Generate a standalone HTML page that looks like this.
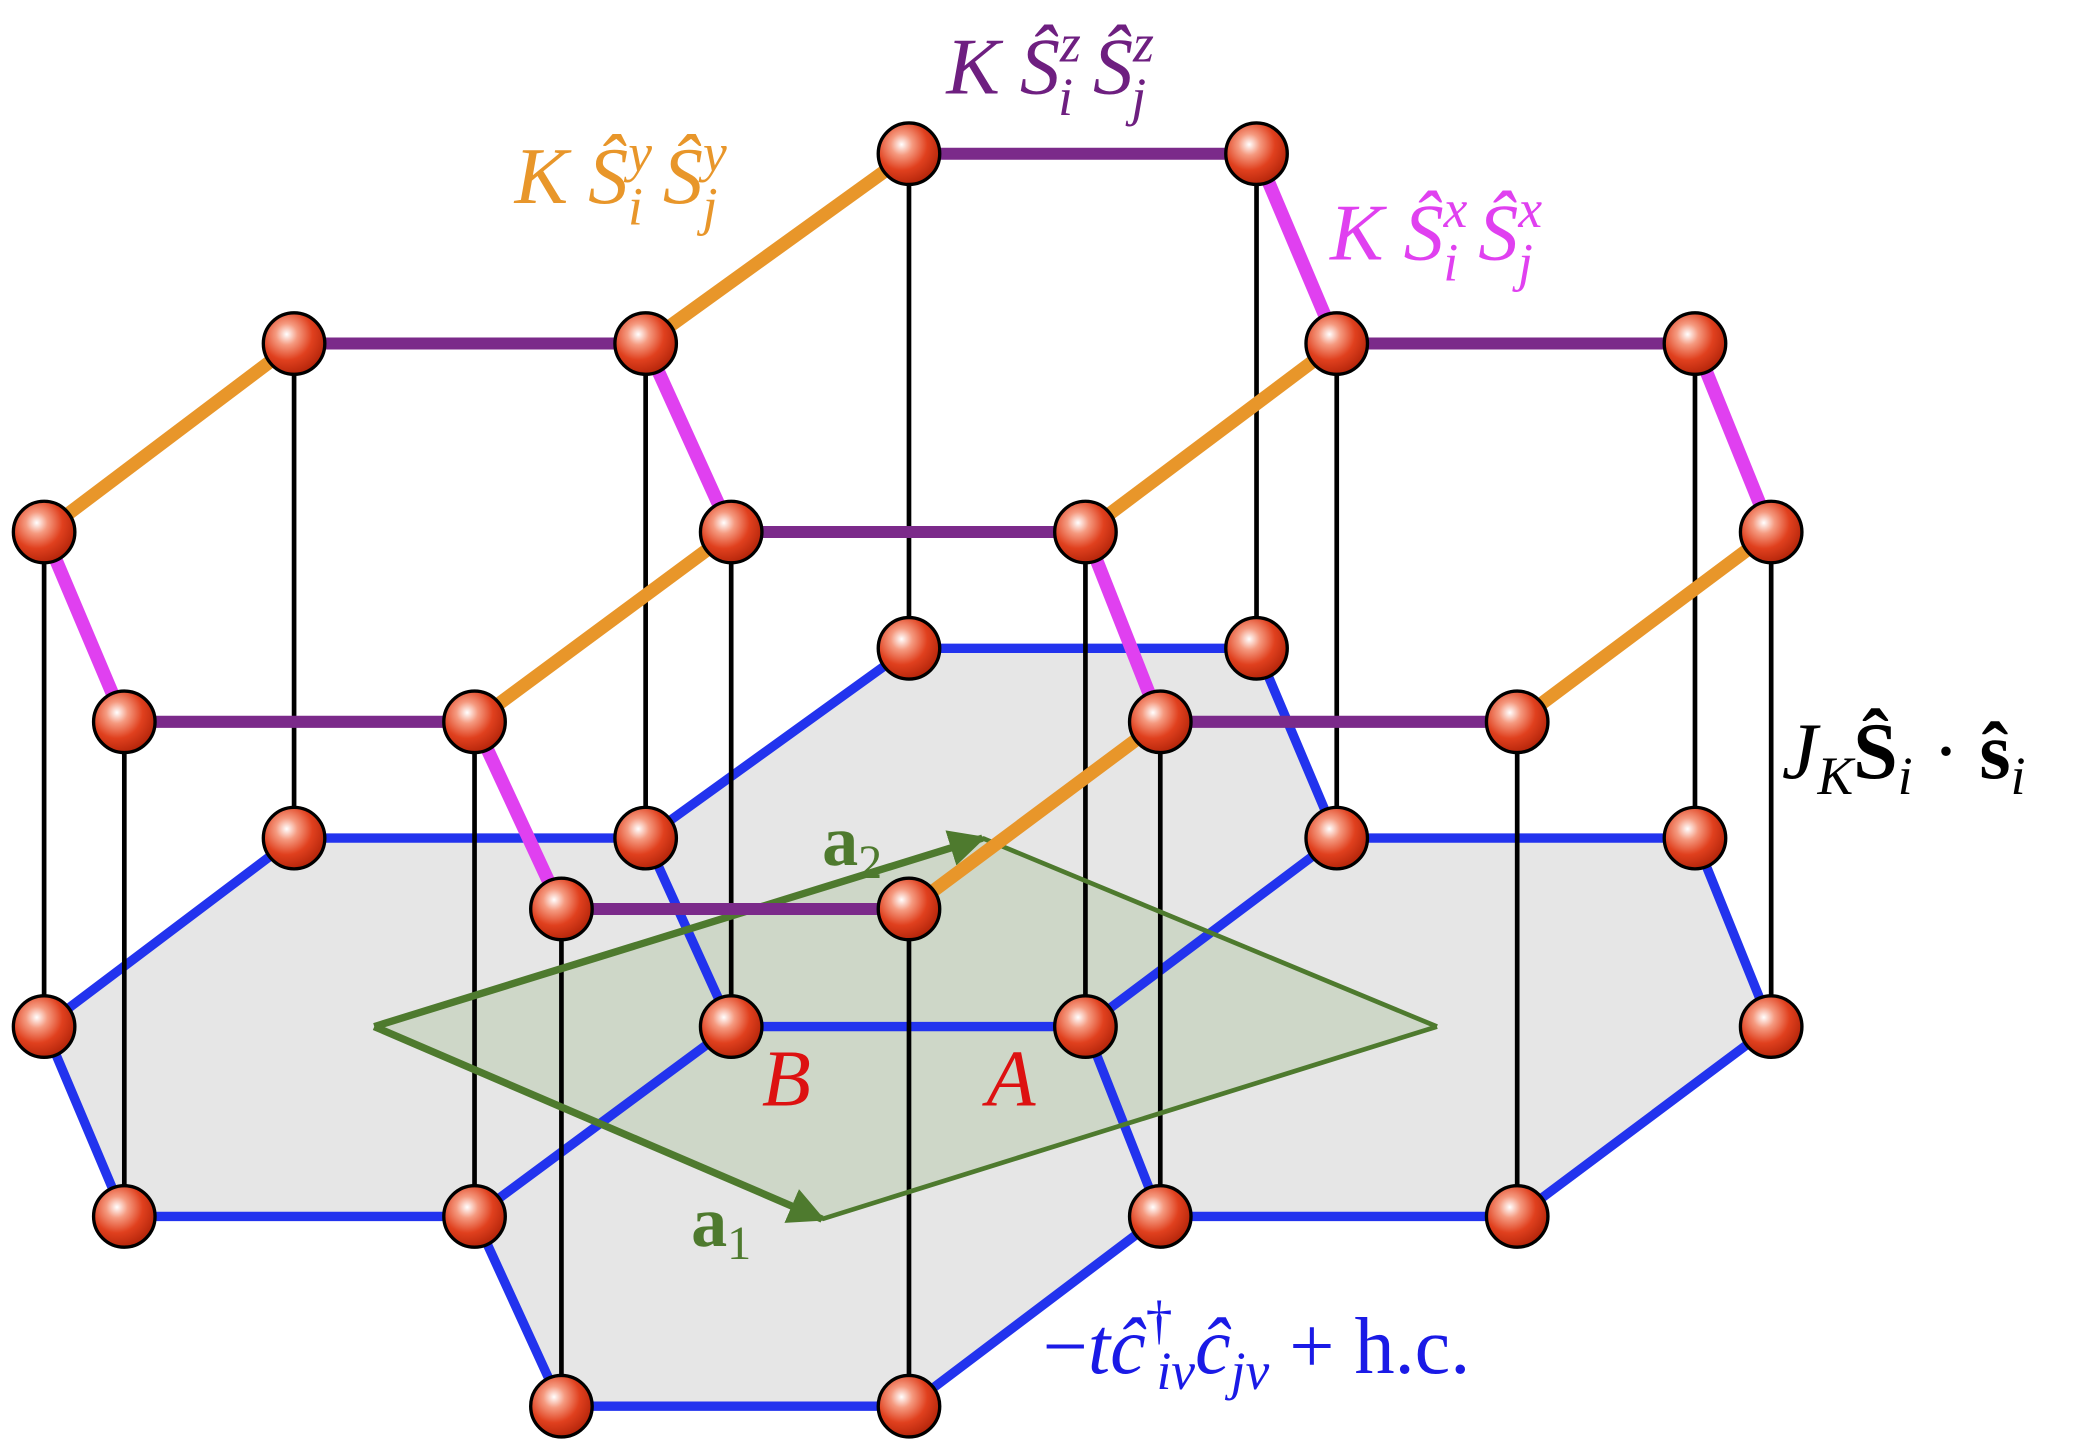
<!DOCTYPE html>
<html><head><meta charset="utf-8"><style>
html,body{margin:0;padding:0;background:#fff;}
svg{display:block;}
text{font-family:"Liberation Serif",serif;}
</style></head><body>
<svg width="2096" height="1453" viewBox="0 0 1568 1087" preserveAspectRatio="none" xmlns="http://www.w3.org/2000/svg">
<defs>
<radialGradient id="ball" cx="0.38" cy="0.35" r="0.7">
<stop offset="0" stop-color="#ffffff"/>
<stop offset="0.25" stop-color="#f59a80"/>
<stop offset="0.6" stop-color="#e0401e"/>
<stop offset="1" stop-color="#b02208"/>
</radialGradient>
<marker id="arr" viewBox="0 0 10 10" refX="9" refY="5" markerWidth="5" markerHeight="5" orient="auto" markerUnits="strokeWidth">
<path d="M0,0 L10,5 L0,10 z" fill="#4e7a2e"/>
</marker>
</defs>
<g fill="#e6e6e6" stroke="none">
<polygon points="220,627 483,627 547,768 355,910 93,910 33,768"/>
<polygon points="680,485 940,485 1000,627 812,768 547,768 483,627"/>
<polygon points="1000,627 1268,627 1325,768 1135,910 868,910 812,768"/>
<polygon points="547,768 812,768 868,910 680,1052 420,1052 355,910"/>
</g>
<polygon points="280,768 735,627 1075,768 615,912" fill="#a9c09b" fill-opacity="0.4"/>
<g stroke="#2233ee" stroke-width="7" fill="none" stroke-linecap="round">
<polyline points="220,627 483,627 547,768 355,910 93,910 33,768 220,627"/>
<polyline points="483,627 680,485 940,485 1000,627 812,768 547,768"/>
<polyline points="1000,627 1268,627 1325,768 1135,910 868,910 812,768"/>
<polyline points="355,910 420,1052 680,1052 868,910"/>
</g>
<g stroke="#000" stroke-width="3.5">
<line x1="680" y1="115" x2="680" y2="485"/><line x1="940" y1="115" x2="940" y2="485"/>
<line x1="220" y1="257" x2="220" y2="627"/><line x1="483" y1="257" x2="483" y2="627"/>
<line x1="1000" y1="257" x2="1000" y2="627"/><line x1="1268" y1="257" x2="1268" y2="627"/>
<line x1="33" y1="398" x2="33" y2="768"/><line x1="547" y1="398" x2="547" y2="768"/>
<line x1="812" y1="398" x2="812" y2="768"/><line x1="1325" y1="398" x2="1325" y2="768"/>
<line x1="93" y1="540" x2="93" y2="910"/><line x1="355" y1="540" x2="355" y2="910"/>
<line x1="868" y1="540" x2="868" y2="910"/><line x1="1135" y1="540" x2="1135" y2="910"/>
<line x1="420" y1="680" x2="420" y2="1052"/><line x1="680" y1="680" x2="680" y2="1052"/>
</g>
<g stroke="#4e7a2e" fill="none">
<line x1="735" y1="627" x2="1075" y2="768" stroke-width="3.5"/>
<line x1="1075" y1="768" x2="615" y2="912" stroke-width="3.5"/>
<line x1="280" y1="768" x2="735" y2="627" stroke-width="5.5" marker-end="url(#arr)"/>
<line x1="280" y1="768" x2="615" y2="912" stroke-width="5.5" marker-end="url(#arr)"/>
</g>
<g stroke="#7b2a8a" stroke-width="9">
<line x1="680" y1="115" x2="940" y2="115"/><line x1="220" y1="257" x2="483" y2="257"/>
<line x1="1000" y1="257" x2="1268" y2="257"/><line x1="547" y1="398" x2="812" y2="398"/>
<line x1="93" y1="540" x2="355" y2="540"/><line x1="868" y1="540" x2="1135" y2="540"/>
<line x1="420" y1="680" x2="680" y2="680"/>
</g>
<g stroke="#e8962a" stroke-width="10">
<line x1="483" y1="257" x2="680" y2="115"/><line x1="33" y1="398" x2="220" y2="257"/>
<line x1="355" y1="540" x2="547" y2="398"/><line x1="812" y1="398" x2="1000" y2="257"/>
<line x1="1135" y1="540" x2="1325" y2="398"/><line x1="680" y1="680" x2="868" y2="540"/>
</g>
<g stroke="#e040f0" stroke-width="10">
<line x1="940" y1="115" x2="1000" y2="257"/><line x1="483" y1="257" x2="547" y2="398"/>
<line x1="33" y1="398" x2="93" y2="540"/><line x1="812" y1="398" x2="868" y2="540"/>
<line x1="1268" y1="257" x2="1325" y2="398"/><line x1="355" y1="540" x2="420" y2="680"/>
</g>
<g fill="url(#ball)" stroke="#000" stroke-width="2.5">
<circle cx="680" cy="115" r="23"/><circle cx="940" cy="115" r="23"/>
<circle cx="220" cy="257" r="23"/><circle cx="483" cy="257" r="23"/>
<circle cx="1000" cy="257" r="23"/><circle cx="1268" cy="257" r="23"/>
<circle cx="33" cy="398" r="23"/><circle cx="547" cy="398" r="23"/>
<circle cx="812" cy="398" r="23"/><circle cx="1325" cy="398" r="23"/>
<circle cx="93" cy="540" r="23"/><circle cx="355" cy="540" r="23"/>
<circle cx="868" cy="540" r="23"/><circle cx="1135" cy="540" r="23"/>
<circle cx="420" cy="680" r="23"/><circle cx="680" cy="680" r="23"/>
<circle cx="680" cy="485" r="23"/><circle cx="940" cy="485" r="23"/>
<circle cx="220" cy="627" r="23"/><circle cx="483" cy="627" r="23"/>
<circle cx="1000" cy="627" r="23"/><circle cx="1268" cy="627" r="23"/>
<circle cx="33" cy="768" r="23"/><circle cx="547" cy="768" r="23"/>
<circle cx="812" cy="768" r="23"/><circle cx="1325" cy="768" r="23"/>
<circle cx="93" cy="910" r="23"/><circle cx="355" cy="910" r="23"/>
<circle cx="868" cy="910" r="23"/><circle cx="1135" cy="910" r="23"/>
<circle cx="420" cy="1052" r="23"/><circle cx="680" cy="1052" r="23"/>
</g>
<g font-size="60" font-style="italic">
<text x="708" y="70" fill="#6e1f80">K Ŝ<tspan font-size="40" dy="-24">z</tspan><tspan font-size="40" dx="-17" dy="40">i</tspan><tspan dy="-16">  Ŝ</tspan><tspan font-size="40" dy="-24">z</tspan><tspan font-size="40" dx="-17" dy="40">j</tspan></text>
<text x="385" y="152" fill="#e8962a">K Ŝ<tspan font-size="40" dy="-24">y</tspan><tspan font-size="40" dx="-18" dy="40">i</tspan><tspan dy="-16">  Ŝ</tspan><tspan font-size="40" dy="-24">y</tspan><tspan font-size="40" dx="-18" dy="40">j</tspan></text>
<text x="995" y="194" fill="#e040f0">K Ŝ<tspan font-size="40" dy="-24">x</tspan><tspan font-size="40" dx="-18" dy="40">i</tspan><tspan dy="-16">  Ŝ</tspan><tspan font-size="40" dy="-24">x</tspan><tspan font-size="40" dx="-18" dy="40">j</tspan></text>
<text x="1333" y="582" fill="#000">J<tspan font-size="40" dy="12">K</tspan><tspan font-style="normal" font-weight="bold" dy="-12">Ŝ</tspan><tspan font-size="40" dy="12">i</tspan><tspan font-style="normal" dy="-12"> · </tspan><tspan font-style="normal" font-weight="bold">ŝ</tspan><tspan font-size="40" dy="12">i</tspan></text>
<text x="780" y="1027" fill="#1a1ae6"><tspan font-style="normal">−</tspan>tĉ<tspan font-size="40" font-style="normal" dy="-26">†</tspan><tspan font-size="40" dx="-12" dy="38">iν</tspan><tspan dy="-12">ĉ</tspan><tspan font-size="40" dy="12">jν</tspan><tspan font-style="normal" dy="-12"> + h.c.</tspan></text>
<text x="570" y="827" fill="#dd1111">B</text>
<text x="738" y="827" fill="#dd1111">A</text>
</g>
<g font-size="54" font-weight="bold" fill="#4e7a2e">
<text x="615" y="647">a<tspan font-size="36" font-weight="normal" dy="10">2</tspan></text>
<text x="517" y="932">a<tspan font-size="36" font-weight="normal" dy="10">1</tspan></text>
</g>
</svg>
</body></html>
